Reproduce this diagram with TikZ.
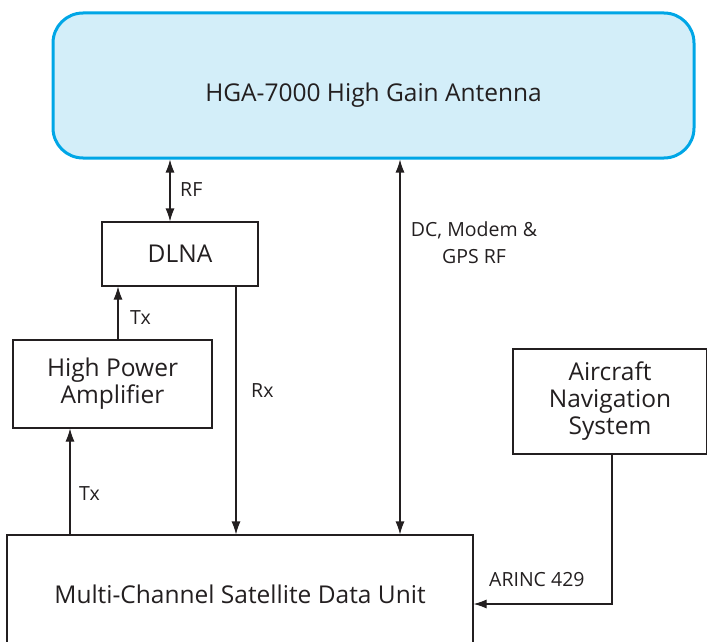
\documentclass[tikz,border=0pt]{standalone}
\usepackage{fontspec}
\setmainfont{Open Sans}
\usetikzlibrary{arrows.meta}
\definecolor{antfill}{HTML}{D3EEF9}
\definecolor{antline}{HTML}{00A6E6}
\definecolor{ink}{HTML}{231F20}
\begin{document}
\begin{tikzpicture}[x=1pt, y=-1pt,
    unit/.style={draw=ink, line width=1.1pt, text=ink, inner sep=0pt, align=center,
      font=\fontsize{24.5}{27}\selectfont},
    sig/.style={draw=ink, line width=1.1pt, -{Latex[length=13pt,width=9pt]}},
    bisig/.style={draw=ink, line width=1.1pt, {Latex[length=13pt,width=9pt]}-{Latex[length=13pt,width=9pt]}},
    lbl/.style={text=ink, anchor=west, inner sep=0pt, align=center,
      font=\fontsize{19.5}{27}\selectfont}]
\useasboundingbox (0,0) rectangle (707,642);
\node[unit, draw=antline, fill=antfill, line width=3pt, rounded corners=30pt,
  minimum width=641pt, minimum height=145pt] (ant) at (373.5,85.5) {};
\node[unit, draw=none] (anttxt) at (373.5,95) {HGA-7000 High Gain Antenna};
\node[unit, minimum width=156pt, minimum height=64pt] (dlna) at (180,254) {DLNA};
\node[unit, minimum width=199pt, minimum height=88pt] (hpa) at (112.5,384) {High Power\\Amplifier};
\node[unit, minimum width=194pt, minimum height=105pt] (nav) at (610,401.5) {Aircraft\\Navigation\\System};
\node[unit, minimum width=466pt, minimum height=118pt] (mcsdu) at (240,594) {Multi-Channel Satellite Data Unit};
\coordinate (rfx) at (170,0);
\coordinate (dcx) at (400,0);
\coordinate (txa) at (118,0);
\coordinate (rxx) at (236,0);
\coordinate (txb) at (70,0);
\coordinate (navx) at (612,0);
\coordinate (arinc) at (612,604);
\draw[bisig] (ant.south -| rfx) -- (dlna.north -| rfx);
\draw[bisig] (ant.south -| dcx) -- (mcsdu.north -| dcx);
\draw[sig] (hpa.north -| txa) -- (dlna.south -| txa);
\draw[sig] (dlna.south -| rxx) -- (mcsdu.north -| rxx);
\draw[sig] (mcsdu.north -| txb) -- (hpa.south -| txb);
\draw[sig] (nav.south -| navx) -- (arinc) -- (arinc -| mcsdu.east);
\node[lbl] (rflbl) at (180,190) {RF};
\node[lbl, anchor=center] (dclbl) at (474,243) {DC, Modem \&\\GPS RF};
\node[lbl] (txalbl) at (130,318) {Tx};
\node[lbl] (rxlbl) at (251,391) {Rx};
\node[lbl] (txblbl) at (79,494) {Tx};
\node[lbl] (arinclbl) at (489,580) {ARINC 429};
\end{tikzpicture}
\end{document}
